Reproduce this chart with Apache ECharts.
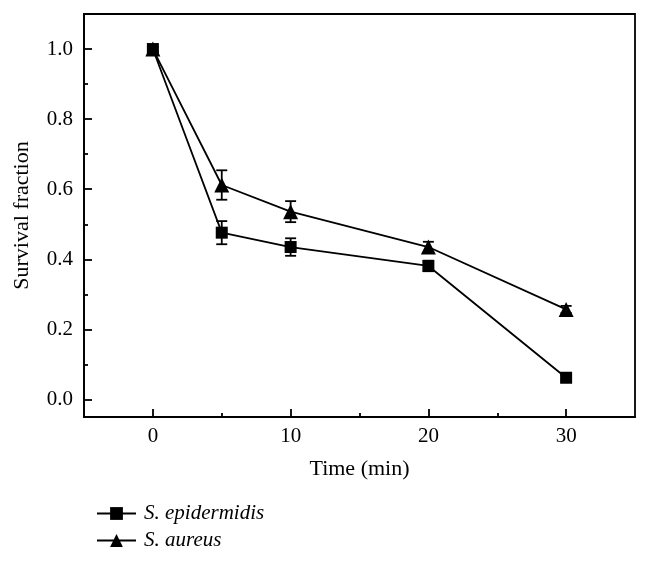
<!DOCTYPE html>
<html>
<head>
<meta charset="utf-8">
<script src="https://cdn.jsdelivr.net/npm/echarts@6/dist/echarts.min.js"></script>
<style>html,body{margin:0;padding:0;background:#fff}#c{width:650px;height:561px}</style>
</head>
<body>
<div id="c"></div>
<script>
const times = [0, 5, 10, 20, 30];
const epidermidis = [1.0, 0.476, 0.435, 0.381, 0.062];
const epidermidisErr = [0.005, 0.033, 0.025, 0.015, 0.008];
const aureus = [1.0, 0.612, 0.536, 0.435, 0.257];
const aureusErr = [0.005, 0.042, 0.03, 0.015, 0.01];
const xMajorTicks = [0, 10, 20, 30];
const xMinorTicks = [5, 15, 25];
const yMajorTicks = [0, 0.2, 0.4, 0.6, 0.8, 1.0];
const yMinorTicks = [0.1, 0.3, 0.5, 0.7, 0.9];

const FONT = 'Liberation Serif';
const FS = 21;
const FN = 22;
const chart = echarts.init(document.getElementById('c'));

function errData(vals, errs) {
  return times.map((t, i) => [t, vals[i] - errs[i], vals[i] + errs[i]]);
}
function errRender(params, api) {
  const x = api.value(0);
  const lo = api.coord([x, api.value(1)]);
  const hi = api.coord([x, api.value(2)]);
  const w = 5.5;
  const style = { stroke: '#000', lineWidth: 1.8 };
  return {
    type: 'group',
    children: [
      { type: 'line', shape: { x1: lo[0], y1: lo[1], x2: hi[0], y2: hi[1] }, style },
      { type: 'line', shape: { x1: lo[0] - w, y1: lo[1], x2: lo[0] + w, y2: lo[1] }, style },
      { type: 'line', shape: { x1: hi[0] - w, y1: hi[1], x2: hi[0] + w, y2: hi[1] }, style }
    ]
  };
}

const axisCommon = {
  type: 'value',
  splitLine: { show: false },
  axisLine: { show: true, onZero: false, lineStyle: { color: '#000', width: 1.8 } }
};

chart.setOption({
  backgroundColor: '#fff',
  animation: false,
  grid: { left: 84, top: 14, right: 15, bottom: 144, show: true, borderColor: '#000', borderWidth: 1.8, backgroundColor: 'transparent' },
  legend: {
    orient: 'vertical', left: 91, top: 498, itemGap: 6, itemWidth: 39, itemHeight: 16,
    data: ['S. epidermidis', 'S. aureus'],
    textStyle: { fontFamily: FONT, fontStyle: 'italic', fontSize: FS, color: '#000', padding: [0, 0, 0, 3] }
  },
  xAxis: [
    Object.assign({}, axisCommon, {
      min: -5, max: 35,
      name: 'Time (min)', nameLocation: 'middle', nameGap: 41,
      nameTextStyle: { fontFamily: FONT, fontSize: FN, color: '#000' },
      axisTick: { show: true, inside: true, length: 8, customValues: xMajorTicks, lineStyle: { color: '#000', width: 1.8 } },
      axisLabel: { customValues: xMajorTicks, margin: 9, fontFamily: FONT, fontSize: FS, color: '#000' }
    }),
    Object.assign({}, axisCommon, {
      min: -5, max: 35, position: 'bottom',
      axisLine: { show: false, onZero: false },
      axisTick: { show: true, inside: true, length: 4, customValues: xMinorTicks, lineStyle: { color: '#000', width: 1.8 } },
      axisLabel: { show: false }
    })
  ],
  yAxis: [
    Object.assign({}, axisCommon, {
      min: -0.05, max: 1.1,
      name: 'Survival fraction', nameLocation: 'middle', nameGap: 51,
      nameTextStyle: { fontFamily: FONT, fontSize: FN, color: '#000' },
      axisTick: { show: true, inside: true, length: 8, customValues: yMajorTicks, lineStyle: { color: '#000', width: 1.8 } },
      axisLabel: { customValues: yMajorTicks, margin: 11, fontFamily: FONT, fontSize: FS, color: '#000', formatter: v => v.toFixed(1) }
    }),
    Object.assign({}, axisCommon, {
      min: -0.05, max: 1.1, position: 'left',
      axisLine: { show: false, onZero: false },
      axisTick: { show: true, inside: true, length: 4, customValues: yMinorTicks, lineStyle: { color: '#000', width: 1.8 } },
      axisLabel: { show: false }
    })
  ],
  series: [
    {
      name: 'S. epidermidis', type: 'line', symbol: 'rect', symbolSize: 12,
      data: times.map((t, i) => [t, epidermidis[i]]),
      lineStyle: { color: '#000', width: 1.8 }, itemStyle: { color: '#000' }, z: 3
    },
    {
      name: 'S. aureus', type: 'line', symbol: 'triangle', symbolSize: 15,
      data: times.map((t, i) => [t, aureus[i]]),
      lineStyle: { color: '#000', width: 1.8 }, itemStyle: { color: '#000' }, z: 3
    },
    { type: 'custom', renderItem: errRender, data: errData(epidermidis, epidermidisErr), z: 2, silent: true },
    { type: 'custom', renderItem: errRender, data: errData(aureus, aureusErr), z: 2, silent: true }
  ]
});
</script>
</body>
</html>
